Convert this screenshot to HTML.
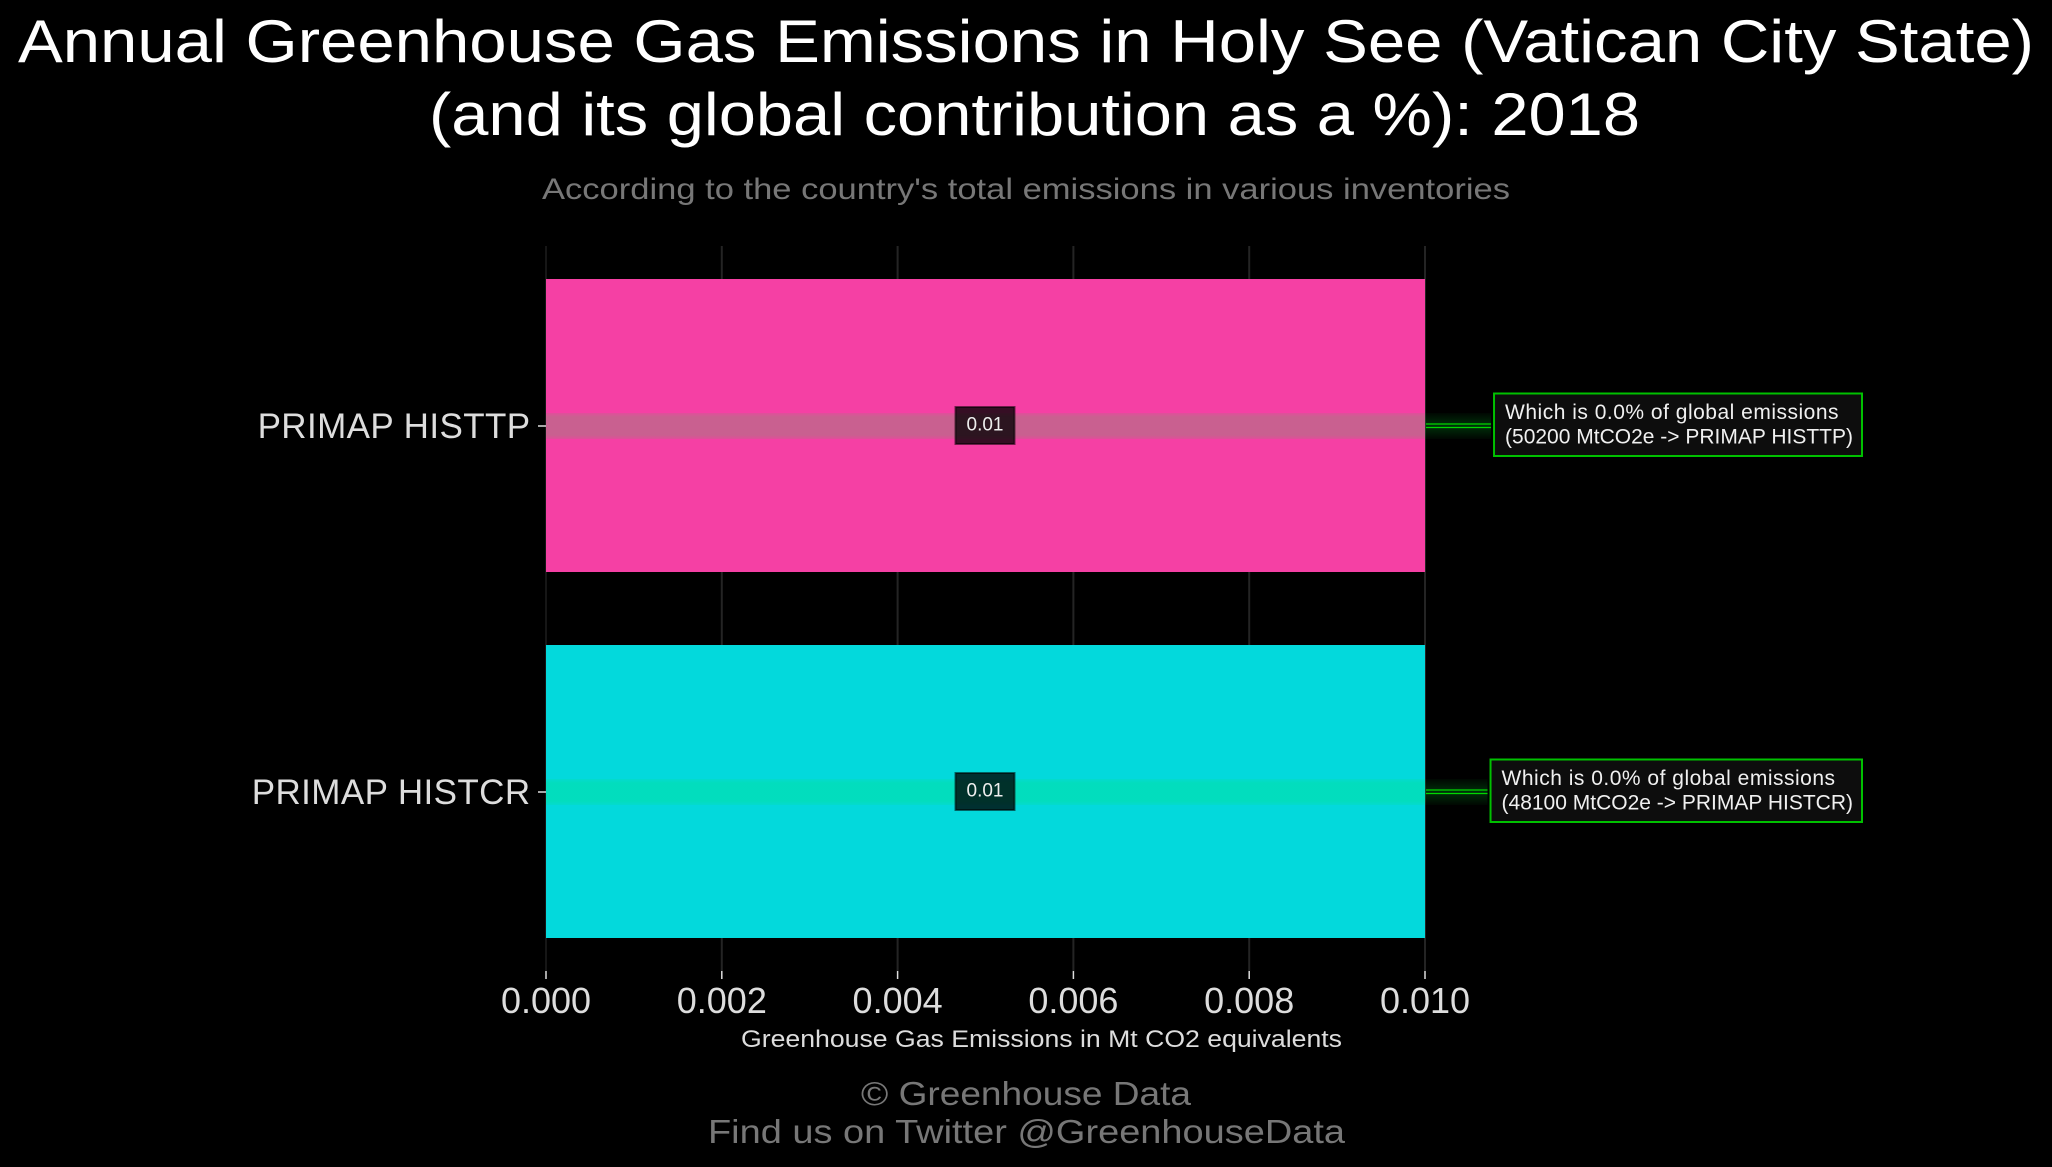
<!DOCTYPE html>
<html lang="en">
<head>
<meta charset="utf-8">
<title>Annual Greenhouse Gas Emissions in Holy See</title>
<style>
html,body{margin:0;padding:0;background:#000;}
body{width:2052px;height:1167px;overflow:hidden;}
svg{display:block;}
text{font-family:"Liberation Sans",sans-serif;}
</style>
</head>
<body>
<svg id="chart" xmlns="http://www.w3.org/2000/svg" width="2052" height="1167" viewBox="0 0 2052 1167">
  <defs>
    <linearGradient id="bandGrad" x1="0" y1="0" x2="0" y2="1">
      <stop offset="0" stop-color="#00f032" stop-opacity="0.08"/>
      <stop offset="0.15" stop-color="#00f032" stop-opacity="0.18"/>
      <stop offset="0.85" stop-color="#00f032" stop-opacity="0.18"/>
      <stop offset="1" stop-color="#00f032" stop-opacity="0.08"/>
    </linearGradient>
    <linearGradient id="glowGrad" x1="0" y1="0" x2="0" y2="1">
      <stop offset="0" stop-color="#00f032" stop-opacity="0.03"/>
      <stop offset="0.5" stop-color="#00f032" stop-opacity="0.2"/>
      <stop offset="1" stop-color="#00f032" stop-opacity="0.03"/>
    </linearGradient>
  </defs>
  <rect x="0" y="0" width="2052" height="1167" fill="#000"/>
  <text x="1026" y="62" text-anchor="middle" font-size="60" fill="#fff" textLength="2016" lengthAdjust="spacingAndGlyphs">Annual Greenhouse Gas Emissions in Holy See (Vatican City State)</text>
  <text x="1034.5" y="135" text-anchor="middle" font-size="60" fill="#fff" textLength="1211" lengthAdjust="spacingAndGlyphs">(and its global contribution as a %): 2018</text>
  <text x="1026" y="199" text-anchor="middle" font-size="30" fill="#777" textLength="968" lengthAdjust="spacingAndGlyphs">According to the country's total emissions in various inventories</text>
  <g id="grid"></g>
  <g id="bars"></g>
  <g id="annotations"></g>
  <g id="xaxis"></g>
  <g id="yaxis"></g>
  <text x="1041.5" y="1047" text-anchor="middle" font-size="24" fill="#ddd" textLength="601" lengthAdjust="spacingAndGlyphs">Greenhouse Gas Emissions in Mt CO2 equivalents</text>
  <text x="1026" y="1105" text-anchor="middle" font-size="33" fill="#777" textLength="330" lengthAdjust="spacingAndGlyphs">© Greenhouse Data</text>
  <text x="1026.5" y="1143" text-anchor="middle" font-size="33" fill="#777" textLength="637" lengthAdjust="spacingAndGlyphs">Find us on Twitter @GreenhouseData</text>
</svg>
<script>
const categories = ['PRIMAP HISTTP', 'PRIMAP HISTCR'];
const values = [0.01, 0.01];
const valueLabels = ['0.01', '0.01'];
const globalPercents = [0.0, 0.0];
const globalTotals = [50200, 48100];
const xTicks = [0, 0.002, 0.004, 0.006, 0.008, 0.01];
const xTickLabels = ['0.000', '0.002', '0.004', '0.006', '0.008', '0.010'];
const barColors = ['#f540a4', '#03d9dc'];

const NS = 'http://www.w3.org/2000/svg';
const plotLeft = 546, plotRight = 1425, plotTop = 246, plotBottom = 971;
const xMax = 0.01;
const firstCenter = 425.5, centerStep = 366, barThickness = 293;
function xScale(v) { return plotLeft + (v / xMax) * (plotRight - plotLeft); }
function yScale(i) { return firstCenter + i * centerStep; }
function make(tag, parent, attrs, content) {
  const el = document.createElementNS(NS, tag);
  for (const k in attrs) el.setAttribute(k, attrs[k]);
  if (content !== undefined) el.textContent = content;
  parent.appendChild(el);
  return el;
}
const grid = document.getElementById('grid');
const bars = document.getElementById('bars');
const ann = document.getElementById('annotations');
const xaxis = document.getElementById('xaxis');
const yaxis = document.getElementById('yaxis');

xTicks.forEach(function (t, i) {
  const x = xScale(t);
  const line = make('line', grid, {x1: x, x2: x, y1: plotTop, y2: plotBottom, stroke: '#242424', 'stroke-width': i === 0 ? 1.2 : 2});
  
  
  const tick = make('line', xaxis, {x1: x, x2: x, y1: plotBottom, y2: plotBottom + 8, stroke: '#ddd', 'stroke-width': 1.5});
  
  
  const label = make('text', xaxis, {x: x, y: 1013, 'text-anchor': 'middle', 'font-size': 36, fill: '#ddd'}, xTickLabels[i]);
  
  
});

categories.forEach(function (cat, i) {
  const slug = cat.toLowerCase().replace(/\s+/g, '-');
  const cy = yScale(i);
  const xEnd = xScale(values[i]);

  const bar = make('rect', bars, {x: xScale(0), y: cy - barThickness / 2, width: xEnd - xScale(0), height: barThickness, fill: barColors[i]});
  
  

  const band = make('rect', bars, {x: xScale(0), y: cy - 12.5, width: xEnd - xScale(0), height: 26, fill: 'url(#bandGrad)'});
  
  

  const tick = make('line', yaxis, {x1: plotLeft - 8, x2: plotLeft, y1: cy + 0.5, y2: cy + 0.5, stroke: '#ddd', 'stroke-width': 1.5});
  
  

  const catLabel = make('text', yaxis, {x: 530.5, y: cy + 12.5, 'text-anchor': 'end', 'font-size': 35, fill: '#ddd', 'letter-spacing': '0.4'}, cat);
  
  

  const midX = xScale(values[i] / 2) - 0.5;
  const valBox = make('rect', bars, {x: midX - 29.5, y: cy - 18.5, width: 59, height: 37, fill: 'rgba(0,0,0,0.78)', stroke: 'rgba(0,0,0,0.55)', 'stroke-width': 2});
  
  

  const valText = make('text', bars, {x: midX, y: cy + 5, 'text-anchor': 'middle', 'font-size': 19, fill: '#eee'}, valueLabels[i]);
  
  

  // annotation callout: right edge fixed, width follows the text
  const boxRight = 1862;
  const line1 = make('text', ann, {y: cy - 6.5, 'font-size': 21, fill: '#f0f0f0', 'letter-spacing': '0.5'},
    'Which is ' + globalPercents[i].toFixed(1) + '% of global emissions');
  const line2 = make('text', ann, {y: cy + 18, 'font-size': 21, fill: '#f0f0f0'},
    '(' + globalTotals[i] + ' MtCO2e -> ' + cat + ')');
  
  
  
  
  const textW = Math.max(line1.getComputedTextLength(), line2.getComputedTextLength());
  const boxLeft = boxRight - textW - 20;

  const glow = make('rect', ann, {x: xEnd, y: cy - 12.5, width: boxLeft - 3 - xEnd, height: 26, fill: 'url(#glowGrad)'});
  
  
  const arrowA = make('line', ann, {x1: xEnd + 1, x2: boxLeft - 3, y1: cy - 1.5, y2: cy - 1.5, stroke: '#00d800', 'stroke-width': 1.2});
  
  
  const arrowB = make('line', ann, {x1: xEnd + 1, x2: boxLeft - 3, y1: cy + 2, y2: cy + 2, stroke: '#00d800', 'stroke-width': 1.2});
  
  

  const box = make('rect', ann, {x: boxLeft, y: cy - 32, width: boxRight - boxLeft, height: 62.5, fill: '#0d0d0d', stroke: '#00c000', 'stroke-width': 2});
  
  
  ann.appendChild(line1);
  ann.appendChild(line2);
  line1.setAttribute('x', boxLeft + 11);
  line2.setAttribute('x', boxLeft + 11);
});
</script>
</body>
</html>
